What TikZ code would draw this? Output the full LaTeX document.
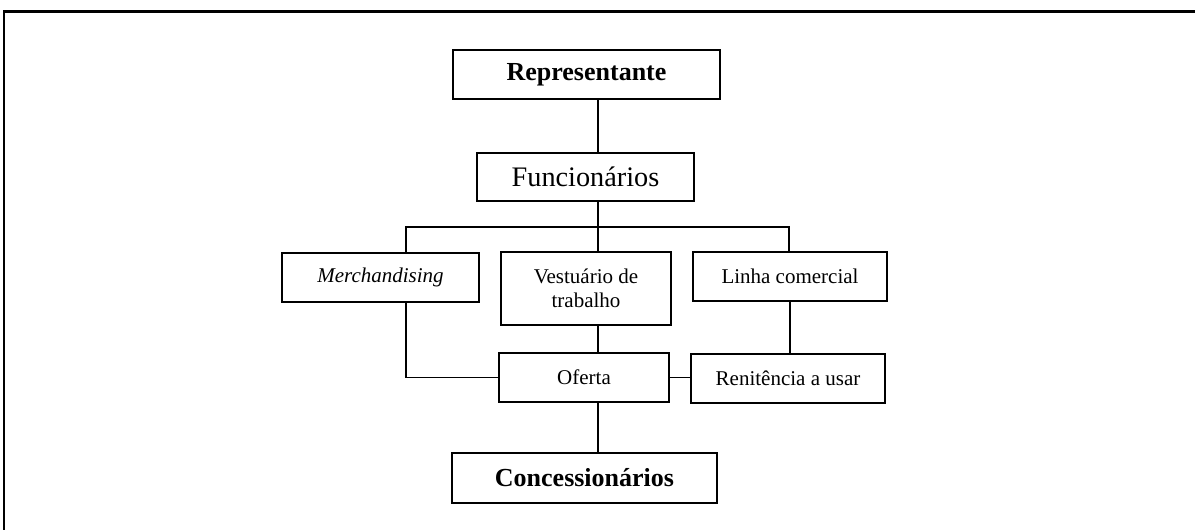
\documentclass[tikz,border=0pt]{standalone}
\usepackage{fontspec}
\setmainfont{Liberation Serif}
\usetikzlibrary{positioning}

\begin{document}
\begin{tikzpicture}
	[x=0.75pt,y=-0.75pt,
	box/.style={draw, line width=0.9pt, inner sep=0pt, align=center, font=\fontsize{15.75pt}{18pt}\selectfont},
	bigbox/.style={box, font=\fontsize{19.5pt}{22pt}\selectfont\bfseries},
	link/.style={line width=0.9pt}]
	\useasboundingbox (0,0) rectangle (1195,530);
	%frame
	\draw[line width=1.6pt] (4,530) -- (4,11.5) -- (1195,11.5);

	%boxes
	\node (rep) [bigbox, minimum width=200.25pt, minimum height=36.75pt] at (586.5,74.5) {Representante};
	\node (func) [box, minimum width=162.75pt, minimum height=36pt, font=\fontsize{21.2pt}{24pt}\selectfont] at (585.5,177) {Funcionários};
	\node (merch) [box, minimum width=147.75pt, minimum height=36.75pt] at (380.5,277.5) {\textit{Merchandising}};
	\node (vest) [box, minimum width=127.5pt, minimum height=54.75pt] at (586,288.5) {Vestuário de\\trabalho};
	\node (linha) [box, minimum width=145.5pt, minimum height=36.75pt] at (790,276.5) {Linha comercial};
	\node (oferta) [box, minimum width=127.5pt, minimum height=36.75pt] at (584,377.5) {Oferta};
	\node (renit) [box, minimum width=145.5pt, minimum height=36.75pt] at (788,378.5) {Renitência a usar};
	\node (conc) [bigbox, minimum width=198.75pt, minimum height=37.5pt] at (584.5,478) {Concessionários};

	%lines
	\coordinate (trunk) at (598,227);
	\coordinate (busL) at (406,227);
	\coordinate (busR) at (789,227);
	\draw[link] (rep.south -| trunk) -- (func.north -| trunk);
	\draw[link] (func.south -| trunk) -- (vest.north -| trunk);
	\draw[link] (merch.north -| busL) -- (busL) -- (busR) -- (linha.north -| busR);
	\draw[link] (vest.south -| trunk) -- (oferta.north -| trunk);
	\draw[link] (oferta.south -| trunk) -- (conc.north -| trunk);
	\draw[link] (merch.south -| busL) |- (oferta.west);
	\draw[link] (oferta.east) -- (oferta.east -| renit.west);
	\draw[link] (linha.south) -- (linha.south |- renit.north);
\end{tikzpicture}
\end{document}
